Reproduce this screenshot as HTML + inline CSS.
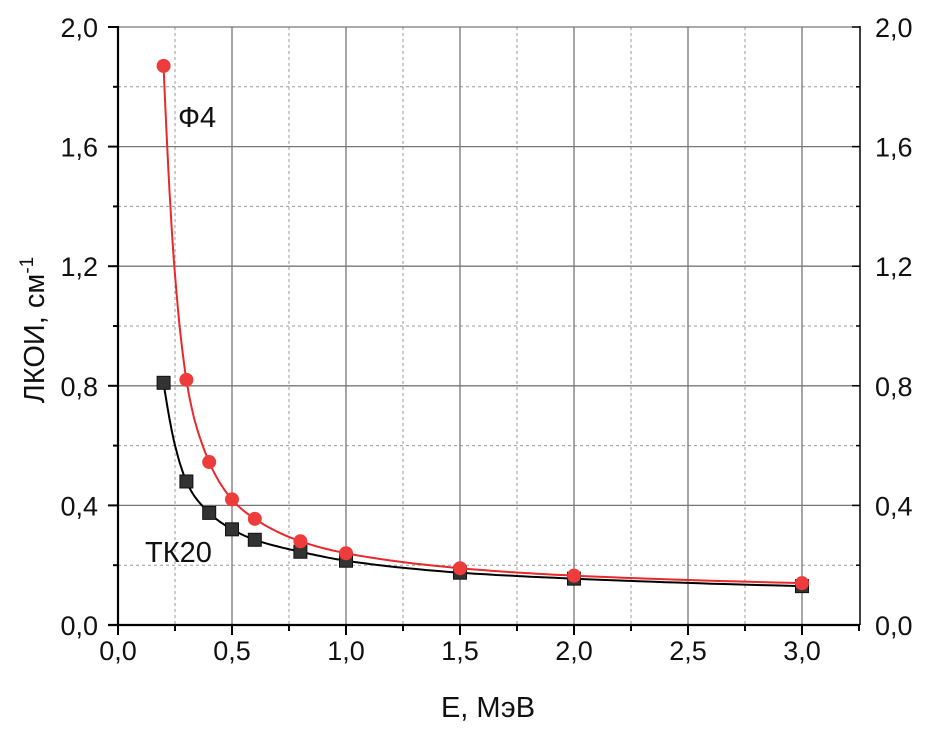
<!DOCTYPE html>
<html><head><meta charset="utf-8"><style>
html,body{margin:0;padding:0;background:#fff;}
svg text{font-family:"Liberation Sans",Arial,sans-serif;fill:#111;}
</style></head><body>
<svg id="s" width="943" height="738" viewBox="0 0 943 738" xmlns="http://www.w3.org/2000/svg">
<g stroke="#999" stroke-width="1" stroke-dasharray="3,3">
<line x1="175" y1="27" x2="175" y2="624"/><line x1="289" y1="27" x2="289" y2="624"/>
<line x1="403" y1="27" x2="403" y2="624"/><line x1="517" y1="27" x2="517" y2="624"/>
<line x1="631" y1="27" x2="631" y2="624"/><line x1="745" y1="27" x2="745" y2="624"/>
<line x1="118" y1="565.2" x2="860" y2="565.2"/><line x1="118" y1="445.6" x2="860" y2="445.6"/>
<line x1="118" y1="326" x2="860" y2="326"/><line x1="118" y1="206.4" x2="860" y2="206.4"/>
<line x1="118" y1="86.8" x2="860" y2="86.8"/>
</g>
<g stroke="#777" stroke-width="1.3">
<line x1="232" y1="27" x2="232" y2="624"/><line x1="346" y1="27" x2="346" y2="624"/>
<line x1="460" y1="27" x2="460" y2="624"/><line x1="574" y1="27" x2="574" y2="624"/>
<line x1="688" y1="27" x2="688" y2="624"/><line x1="802" y1="27" x2="802" y2="624"/>
<line x1="118" y1="505.4" x2="860" y2="505.4"/><line x1="118" y1="385.8" x2="860" y2="385.8"/>
<line x1="118" y1="266.2" x2="860" y2="266.2"/><line x1="118" y1="146.6" x2="860" y2="146.6"/>
<line x1="118" y1="27" x2="860" y2="27"/>
</g>
<g stroke="#000" stroke-width="2.2" fill="none">
<line x1="118" y1="26" x2="118" y2="625"/>
<line x1="108" y1="625" x2="860" y2="625"/>
<line x1="860" y1="26" x2="860" y2="625" stroke-width="1.5"/>
</g>
<g id="ticks" stroke="#000" stroke-width="2"></g>
<path id="c1" fill="none" stroke="#000" stroke-width="2"/>
<path id="c2" fill="none" stroke="#e8282c" stroke-width="2"/>
<g id="m"></g>
<g font-size="27" id="lab"></g>
<text x="178" y="127" font-size="29">Ф4</text>
<text x="145" y="562" font-size="29">ТК20</text>
<text x="488" y="717" font-size="29" text-anchor="middle">E, МэВ</text>
<text transform="translate(44,330) rotate(-90)" font-size="29" text-anchor="middle">ЛКОИ, см<tspan dy="-11" font-size="19">-1</tspan></text>
</svg>
<script>
var NS="http://www.w3.org/2000/svg";
function px(x){return 118+228*x}function py(y){return 625-299*y}
function el(t,a,p){var e=document.createElementNS(NS,t);for(var k in a)e.setAttribute(k,a[k]);document.getElementById(p).appendChild(e);return e}
var xs=[0.2,0.3,0.4,0.5,0.6,0.8,1.0,1.5,2.0,3.0];
var f4=[1.87,0.82,0.545,0.42,0.355,0.28,0.24,0.19,0.165,0.14];
var tk=[0.81,0.48,0.375,0.32,0.285,0.245,0.215,0.175,0.155,0.13];
function path(ys){
 var L=xs.map(function(x,i){return[Math.log(x),Math.log(ys[i])]});var n=L.length;
 var m=[];for(var i=0;i<n;i++){var a=L[Math.max(0,i-1)],b=L[Math.min(n-1,i+1)];m.push((b[1]-a[1])/(b[0]-a[0]));}
 var d="";
 for(var i=0;i<n-1;i++){var x0=L[i][0],x1=L[i+1][0],h=x1-x0;
  for(var k=0;k<=20;k++){var t=k/20;var h00=2*t*t*t-3*t*t+1,h10=t*t*t-2*t*t+t,h01=-2*t*t*t+3*t*t,h11=t*t*t-t*t;
   var ly=h00*L[i][1]+h10*h*m[i]+h01*L[i+1][1]+h11*h*m[i+1];var X=Math.exp(x0+t*h),Y=Math.exp(ly);
   d+=(d?" L":"M")+px(X).toFixed(1)+","+py(Y).toFixed(1);}}
 return d}
document.getElementById("c1").setAttribute("d",path(tk));
document.getElementById("c2").setAttribute("d",path(f4));
xs.forEach(function(x,i){el("rect",{x:px(x)-6.5,y:py(tk[i])-6.5,width:13,height:13,fill:"#333",stroke:"#111"},"m")});
xs.forEach(function(x,i){el("circle",{cx:px(x),cy:py(f4[i]),r:7,fill:"#ee3b3b"},"m")});
for(var i=0;i<=13;i++){var x=118+57*i;el("line",{x1:x,y1:625,x2:x,y2:i%2?631:635},"ticks")}
for(var i=0;i<=10;i++){var y=625-59.8*i;el("line",{x1:118,y1:y,x2:i%2?113:108,y2:y},"ticks");el("line",{x1:860,y1:y,x2:i%2?856:852,y2:y,"stroke-width":1.5},"ticks")}
["0,0","0,4","0,8","1,2","1,6","2,0"].forEach(function(s,i){var y=625-119.6*i+10;
var t=el("text",{x:98,y:y,"text-anchor":"end"},"lab");t.textContent=s;
var t2=el("text",{x:875,y:y},"lab");t2.textContent=s;});
["0,0","0,5","1,0","1,5","2,0","2,5","3,0"].forEach(function(s,i){var t=el("text",{x:118+114*i,y:660,"text-anchor":"middle"},"lab");t.textContent=s});
</script>
</body></html>
